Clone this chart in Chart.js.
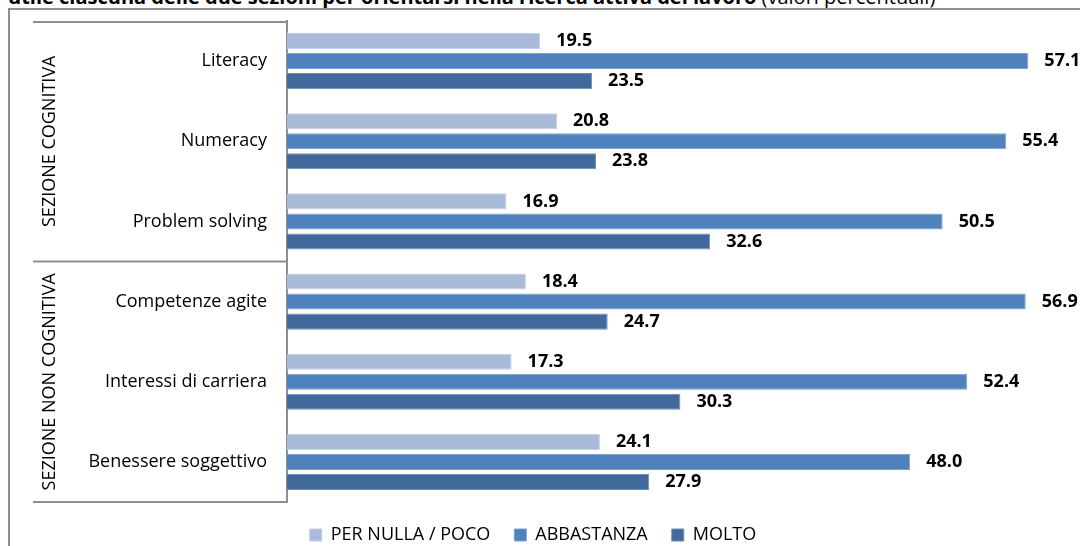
<!DOCTYPE html>
<html lang="it">
<head>
<meta charset="utf-8">
<script src="https://cdn.jsdelivr.net/npm/chart.js@4.4.1/dist/chart.umd.min.js"></script>
<style>
  html, body { margin: 0; padding: 0; background: #fff; overflow: hidden; }
  body { width: 1080px; height: 546px; position: relative; font-family: "Open Sans", sans-serif; }
  .titolo { position: absolute; left: 8px; top: -13px; font-size: 20px; line-height: 20px; white-space: nowrap; color: #000; }
  .titolo b { font-weight: 700; }
  .cornice { position: absolute; left: 8px; top: 8px; width: 1100px; height: 600px; border-top: 2px solid #8f8f8f; border-left: 2px solid #8f8f8f; }
  #grafico { position: absolute; left: 0; top: 0; }
</style>
</head>
<body>
<div class="titolo"><b>utile ciascuna delle due sezioni per orientarsi nella ricerca attiva del lavoro</b> (valori percentuali)</div>
<div class="cornice"></div>
<canvas id="grafico" width="1080" height="560"></canvas>
<script>
const categorie = ['Literacy', 'Numeracy', 'Problem solving', 'Competenze agite', 'Interessi di carriera', 'Benessere soggettivo'];
const perNullaPoco = [19.5, 20.8, 16.9, 18.4, 17.3, 24.1];
const abbastanza = [57.1, 55.4, 50.5, 56.9, 52.4, 48.0];
const molto = [23.5, 23.8, 32.6, 24.7, 30.3, 27.9];
const sezioni = ['SEZIONE COGNITIVA', 'SEZIONE NON COGNITIVA'];

const FONT = '"Open Sans", sans-serif';
const GRIGIO = '#8f8f8f';

// etichette con il valore a destra di ogni barra
const valoriBarre = {
  id: 'valoriBarre',
  afterDatasetsDraw(chart) {
    const ctx = chart.ctx;
    ctx.save();
    ctx.font = 'bold 18px ' + FONT;
    ctx.fillStyle = '#000';
    ctx.textAlign = 'left';
    ctx.textBaseline = 'middle';
    chart.data.datasets.forEach((ds, i) => {
      chart.getDatasetMeta(i).data.forEach((bar, j) => {
        ctx.fillText(ds.data[j].toFixed(1), bar.x + 16, bar.y);
      });
    });
    ctx.restore();
  }
};

// riquadro delle due sezioni a sinistra dell'asse
const sezioniBox = {
  id: 'sezioniBox',
  afterDraw(chart) {
    const ctx = chart.ctx;
    const area = chart.chartArea;
    const y = chart.scales.y;
    const meta = (y.getPixelForValue(2) + y.getPixelForValue(3)) / 2;
    const x0 = 33;
    ctx.save();
    ctx.strokeStyle = GRIGIO;
    ctx.lineWidth = 2;
    [area.top + 1, meta, area.bottom].forEach(yy => {
      ctx.beginPath();
      ctx.moveTo(x0, yy);
      ctx.lineTo(area.left, yy);
      ctx.stroke();
    });
    ctx.font = '18px ' + FONT;
    ctx.fillStyle = '#000';
    ctx.textAlign = 'center';
    ctx.textBaseline = 'alphabetic';
    const centri = [(area.top + meta) / 2, (meta + area.bottom) / 2];
    sezioni.forEach((testo, i) => {
      ctx.save();
      ctx.translate(55, centri[i]);
      ctx.rotate(-Math.PI / 2);
      ctx.fillText(testo, 0, 0);
      ctx.restore();
    });
    ctx.restore();
  }
};

new Chart(document.getElementById('grafico'), {
  type: 'bar',
  data: {
    labels: categorie,
    datasets: [
      { label: 'PER NULLA / POCO', data: perNullaPoco, backgroundColor: '#aabad9', borderColor: '#c3cfe6', borderWidth: 1 },
      { label: 'ABBASTANZA', data: abbastanza, backgroundColor: '#4f81bd', borderColor: '#7da2d2', borderWidth: 1 },
      { label: 'MOLTO', data: molto, backgroundColor: '#41699c', borderColor: '#6f8fbb', borderWidth: 1 }
    ]
  },
  options: {
    indexAxis: 'y',
    responsive: false,
    animation: false,
    devicePixelRatio: 1,
    layout: { padding: { top: 21, right: 14, bottom: 6, left: 0 } },
    datasets: { bar: { barPercentage: 0.8, categoryPercentage: 0.75 } },
    scales: {
      x: { display: false, min: 0, max: 60 },
      y: {
        afterFit: scale => {
          scale.width = 287;
          // niente spazio extra sopra/sotto per le etichette
          scale.paddingTop = 0;
          scale.paddingBottom = 0;
        },
        grid: { display: false, drawTicks: false },
        border: { display: true, color: GRIGIO, width: 2 },
        ticks: { color: '#000', padding: 20, font: { family: FONT, size: 18 } }
      }
    },
    plugins: {
      tooltip: { enabled: false },
      legend: {
        position: 'bottom',
        labels: {
          color: '#000',
          boxWidth: 12,
          boxHeight: 12,
          padding: 24,
          font: { family: FONT, size: 18 }
        }
      }
    }
  },
  plugins: [valoriBarre, sezioniBox]
});
</script>
</body>
</html>
